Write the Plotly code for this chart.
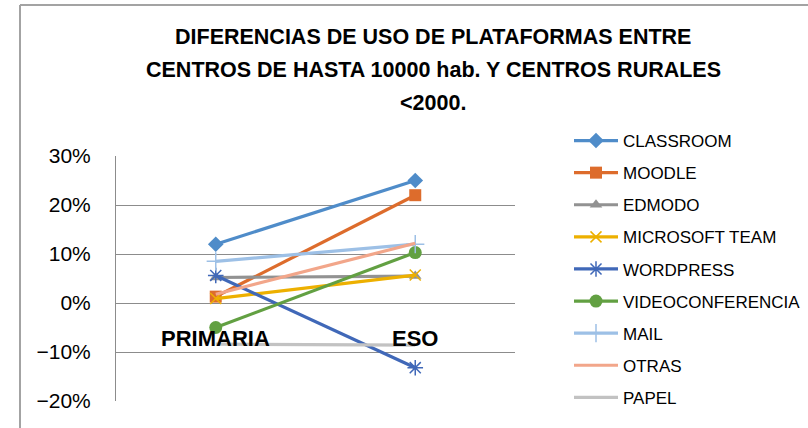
import plotly.graph_objects as go

categories = ["PRIMARIA", "ESO"]
series_names = ["CLASSROOM", "MOODLE", "EDMODO", "MICROSOFT TEAM", "WORDPRESS",
                "VIDEOCONFERENCIA", "MAIL", "OTRAS", "PAPEL"]
classroom = [0.12, 0.25]
moodle = [0.013, 0.22]
edmodo = [0.052, 0.055]
microsoft_team = [0.009, 0.057]
wordpress = [0.056, -0.132]
videoconferencia = [-0.05, 0.103]
mail = [0.085, 0.12]
otras = [0.018, 0.122]
papel = [-0.084, -0.086]
y_ticks = [-0.2, -0.1, 0.0, 0.1, 0.2, 0.3]
title_lines = ["DIFERENCIAS DE USO DE PLATAFORMAS ENTRE",
               "CENTROS DE HASTA 10000 hab. Y CENTROS RURALES",
               "<2000."]

values = [classroom, moodle, edmodo, microsoft_team, wordpress,
          videoconferencia, mail, otras, papel]
colors = ["#4F8CC9", "#DD6C2C", "#929292", "#EDB000", "#4068B8",
          "#62A042", "#9DC0E6", "#F2A68A", "#C2C2C2"]
markers = [dict(symbol="diamond", size=12),
           dict(symbol="square", size=12),
           dict(symbol="triangle-up", size=11),
           dict(symbol="x-thin-open", size=11, line=dict(width=1.5)),
           dict(symbol="asterisk-open", size=13, line=dict(width=1.5)),
           dict(symbol="circle", size=13),
           dict(symbol="cross-thin-open", size=13, line=dict(width=1.5)),
           None, None]

FONT = "Liberation Sans"
fig = go.Figure()
for name, vals, col, mk in zip(series_names, values, colors, markers):
    if mk is None:
        mode = "lines"
        marker = None
    else:
        mode = "lines+markers"
        marker = dict(color=col, **mk)
        if "line" in mk:
            marker["line"] = dict(color=col, width=mk["line"]["width"])
    fig.add_trace(go.Scatter(x=categories, y=vals, name=name, mode=mode,
                             line=dict(color=col, width=3.2), marker=marker,
                             legendgroup=name))

# plot area: x 116..515, y 156..401
L, R, T, B = 116, 515, 156, 401
W, H = 808, 428
def px(x):
    return (x - L) / (R - L)
def py(y):
    return (B - y) / (B - T)

annotations = []
for line, yc in zip(title_lines, [37, 70, 103]):
    annotations.append(dict(text="<b>%s</b>" % line, x=px(433), y=py(yc), xref="paper", yref="paper",
                            showarrow=False, xanchor="center", yanchor="middle",
                            font=dict(family=FONT, size=21.5, color="#000000")))
for c in categories:
    annotations.append(dict(text="<b>%s</b>" % c, x=c, y=py(338), xref="x", yref="paper",
                            showarrow=False, xanchor="center", yanchor="middle",
                            font=dict(family=FONT, size=22, color="#000000")))

shapes = [
    dict(type="line", xref="paper", yref="paper", x0=px(20), x1=px(808), y0=py(5), y1=py(5),
         line=dict(color="#A3A3A3", width=2), layer="above"),
    dict(type="line", xref="paper", yref="paper", x0=px(20), x1=px(20), y0=py(5), y1=py(428),
         line=dict(color="#A3A3A3", width=2), layer="above"),
]

fig.update_layout(
    width=W, height=H,
    margin=dict(l=L, r=W - R, t=T, b=H - B, pad=0, autoexpand=False),
    paper_bgcolor="white", plot_bgcolor="white",
    font=dict(family=FONT, color="#000000"),
    showlegend=True,
    legend=dict(x=px(569), y=1 - 123 / H, xref="paper", yref="container",
                xanchor="left", yanchor="top", maxheight=1, itemwidth=44,
                font=dict(family=FONT, size=17, color="#000000"),
                tracegroupgap=7, bgcolor="rgba(0,0,0,0)"),
    annotations=annotations,
    shapes=shapes,
)
fig.update_xaxes(type="category", categoryorder="array", categoryarray=categories,
                 range=[-0.5, 1.5], showticklabels=False, showgrid=False,
                 zeroline=False, showline=False, automargin=False)
fig.update_yaxes(range=[-0.2, 0.3], tickvals=y_ticks, tickformat=".0%",
                 showgrid=True, gridcolor="#8C8C8C", gridwidth=1,
                 zeroline=False, showline=True, linecolor="#8C8C8C", linewidth=1,
                 ticks="", ticklabelstandoff=20, automargin=False,
                 tickfont=dict(family=FONT, size=21, color="#000000"))

fig.write_html("out.html", config={"displayModeBar": False},
               post_script="document.body.style.margin='0';document.body.style.overflow='hidden';")
